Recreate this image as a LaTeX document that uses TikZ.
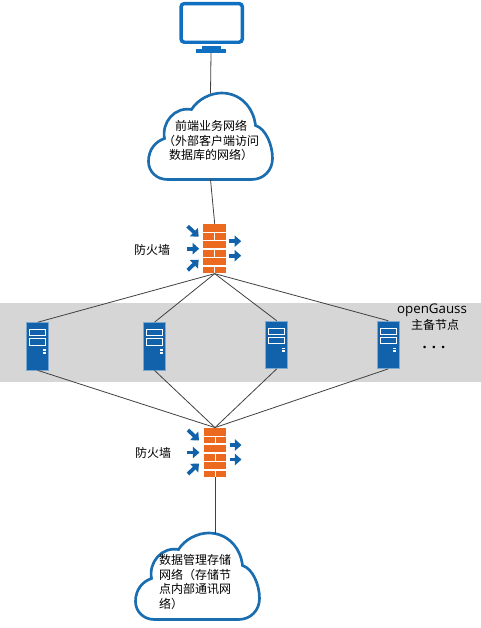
\documentclass[tikz,border=0pt]{standalone}
\usepackage{fontspec}
\usepackage{xcolor}
\usetikzlibrary{arrows.meta, positioning}
\setmainfont{Open Sans}
\newfontfamily\cjk{Noto Sans CJK SC}
\definecolor{brickorange}{HTML}{EC6A1F}
\definecolor{iconblue}{HTML}{1162AB}
\definecolor{screenblue}{HTML}{0F6FC0}
\definecolor{cloudblue}{HTML}{1A6DAE}
\definecolor{bandgray}{HTML}{D6D6D6}

\tikzset{
    cloudshape/.pic={
        \draw[cloudblue, line width=2pt] (-43,43) .. controls (-54,43) and (-62,35) .. (-62,25)
            .. controls (-62,13) and (-55,5) .. (-46,2)
            .. controls (-49,-14) and (-36,-30) .. (-19,-27)
            .. controls (-13,-37) and (0,-43.5) .. (11,-43.5)
            .. controls (30,-43.5) and (43,-29) .. (45,-11)
            .. controls (55,-8) and (62,8) .. (62,22)
            .. controls (62,34) and (53,43) .. (41,43) -- cycle;
    },
    wallicon/.pic={
        \foreach \ytop/\ybot in {-24.7/-17, -7.3/-0.3, 9.7/16.7} {
            \fill[brickorange] (-11.4,\ytop) rectangle (11.4,\ybot);
        }
        \foreach \ytop/\ybot in {-15.5/-9.2, 1.3/8, 18.3/24.7} {
            \fill[brickorange] (-11.4,\ytop) rectangle (-0.5,\ybot);
            \fill[brickorange] (0.7,\ytop) rectangle (11.4,\ybot);
        }
        \draw[flowarrow] (-27,-22.5) -- (-16,-12);
        \draw[flowarrow] (-28,0) -- (-15.5,0);
        \draw[flowarrow] (-27,21.5) -- (-16,11);
        \draw[flowarrow] (14.7,-7.5) -- (26.5,-7.5);
        \draw[flowarrow] (14.7,7) -- (26.5,7);
    }
}

\begin{document}
\begin{tikzpicture}[
        x=0.75pt, y=-0.75pt,
        link/.style={draw=black!75, line width=0.6pt},
        label/.style={font=\cjk\fontsize{9}{10.8}\selectfont, align=center, inner sep=0pt},
        flowarrow/.style={-{Triangle[length=5pt, width=8.5pt]}, iconblue, line width=2.8pt},
        serverbox/.style={rectangle, fill=iconblue, draw=iconblue!55!white, line width=0.6pt, inner sep=0pt, minimum width=16.5pt, minimum height=35.5pt},
        wall/.style={rectangle, inner sep=0pt, minimum width=17pt, minimum height=37pt}
    ]
    \fill[bandgray] (0,302.5) rectangle (481,382);
    \path[use as bounding box] (0,0) rectangle (481,628);

    % monitor
    \node[rectangle, rounded corners=2.5pt, draw=screenblue, line width=2.6pt, fill=white, minimum width=46pt, minimum height=29pt, inner sep=0pt] (monitor) at (211.7,22.9) {};
    \node[rectangle, fill=screenblue, minimum width=14pt, minimum height=3pt, inner sep=0pt] (monitorneck) at (211.7,47.5) {};
    \node[rectangle, fill=screenblue, minimum width=22.5pt, minimum height=2.6pt, inner sep=0pt] (monitorbase) at (211,51) {};

    % clouds
    \pic at (210.5,136.5) {cloudshape};
    \node[label, minimum width=93pt, minimum height=64pt] (frontnet) at (210.5,136.5) {};
    \node[label] (fronttext) at (211,140.5) {前端业务网络\\（外部客户端访问\\数据库的网络）};
    \pic at (197.5,576.5) {cloudshape};
    \node[label, minimum width=93pt, minimum height=64pt] (storenet) at (197.5,576.5) {};
    \node[label, align=left] (storetext) at (195,582) {数据管理存储\\网络（存储节\\点内部通讯网\\络）};

    % firewalls
    \pic at (214.7,248.7) {wallicon};
    \node[wall] (wallfront) at (214.7,248.7) {};
    \pic at (215,452.5) {wallicon};
    \node[wall] (wallstore) at (215,452.5) {};
    \node[label] (wallfrontlabel) at (152,250) {防火墙};
    \node[label] (wallstorelabel) at (153,453) {防火墙};

    % servers
    \foreach \name/\xpos/\ypos in {nodea/37.7/346.3, nodeb/154.5/346.3, nodec/276.7/344.8, noded/388.3/344.8} {
        \node[serverbox] (\name) at (\xpos,\ypos) {};
        \draw[white, line width=0.9pt] (\xpos-8,\ypos-16.7) rectangle (\xpos+8,\ypos-10.5);
        \draw[white, line width=0.9pt] (\xpos-8,\ypos-7.5) rectangle (\xpos+8,\ypos-1.2);
        \fill[white] (\xpos+5,\ypos+2.7) rectangle (\xpos+8,\ypos+4.3);
        \fill[white] (\xpos+5,\ypos+5.5) rectangle (\xpos+8,\ypos+7.3);
    }
    \node[font=\fontsize{10}{12}\selectfont, inner sep=0pt] (gausslabel) at (432,310.5) {openGauss};
    \node[label] (gaussrole) at (435,325) {主备节点};
    \node[inner sep=0pt, font=\bfseries\fontsize{11}{12}\selectfont] (gaussmore) at (434,347.5) {. . .};

    % connectors
    \draw[link] (monitorbase.south) -- (frontnet.north);
    \draw[link] (frontnet.south) -- (wallfront.north);
    \foreach \name in {nodea, nodeb, nodec, noded} {
        \draw[link] (wallfront.south) -- (\name.north);
        \draw[link] (wallstore.north) -- (\name.south);
    }
    \draw[link] (wallstore.south) -- (wallstore |- storenet.north);
\end{tikzpicture}
\end{document}
